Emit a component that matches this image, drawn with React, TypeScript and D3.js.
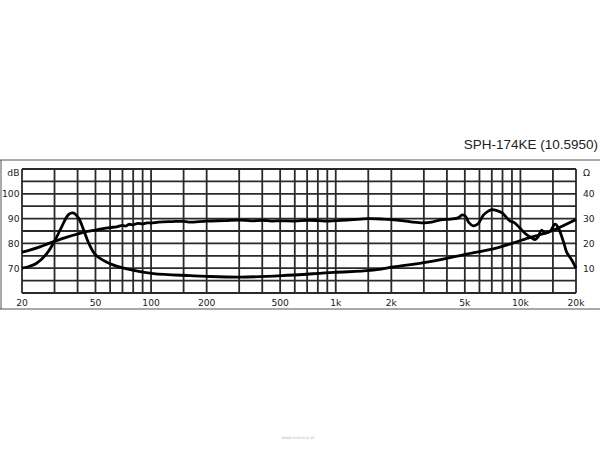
import React from 'react';
import * as d3 from 'd3';

// SPL response (Hz, dB)
const splFreq = [20, 22, 25, 28, 30, 35, 40, 45, 50, 55, 60, 65, 70, 73, 76, 80, 85, 90, 95, 100, 110, 130, 150, 160, 200, 250, 300, 350, 400, 450, 500, 600, 700, 800, 900, 1000, 1200, 1500, 1800, 2200, 2600, 3000, 3300, 3700, 4200, 4600, 4850, 5050, 5250, 5550, 5900, 6300, 6700, 7000, 7400, 8000, 8400, 8800, 9300, 9900, 10800, 11500, 12000, 12500, 13000, 13600, 14500, 15400, 16000, 16700, 17300, 17800, 18900, 20000];
const splDb = [76.5, 77.3, 78.6, 80.0, 80.8, 82.5, 83.8, 84.8, 85.4, 86.0, 86.4, 86.7, 87.3, 87.0, 87.7, 87.5, 88.1, 87.8, 88.3, 88.2, 88.6, 88.8, 88.9, 88.6, 89.0, 89.2, 89.4, 89.1, 89.3, 89.0, 89.1, 89.0, 89.3, 89.2, 89.0, 89.2, 89.5, 90.0, 89.8, 89.3, 88.6, 88.3, 88.6, 89.5, 89.8, 90.3, 91.5, 90.8, 88.5, 87.1, 87.9, 91.4, 93.0, 93.6, 93.3, 92.2, 90.5, 89.0, 88.3, 86.3, 83.5, 82.3, 81.5, 82.8, 85.3, 84.2, 85.0, 87.8, 86.5, 83.0, 79.5, 76.5, 73.5, 70.0];

// impedance (Hz, ohm)
const impFreq = [20, 22, 24, 27.3, 30.3, 32.9, 35.7, 37.8, 40.5, 43.1, 45.9, 50, 60, 77, 103, 163, 200, 304, 511, 973, 1538, 2057, 3240, 4900, 7400, 11100, 14500, 20000];
const impOhm = [10.0, 10.8, 12.0, 16.0, 21.5, 26.9, 31.6, 32.3, 30.2, 25.5, 20.2, 15.4, 11.8, 9.4, 7.8, 7.0, 6.7, 6.4, 7.0, 8.3, 9.1, 10.5, 12.7, 15.4, 18.1, 22.2, 24.8, 29.6];

// grid and labels
const gridFreqs = [20, 30, 40, 50, 60, 70, 80, 90, 100, 150, 200, 300, 400, 500, 600, 700, 800, 900, 1000, 1500, 2000, 3000, 4000, 5000, 6000, 7000, 8000, 9000, 10000, 15000, 20000];
const xTickValues = [20, 50, 100, 200, 500, 1000, 2000, 5000, 10000, 20000];
const xTickLabels = ['20', '50', '100', '200', '500', '1k', '2k', '5k', '10k', '20k'];
const dbGrid = [60, 65, 70, 75, 80, 85, 90, 95, 100, 105, 110];
const dbLabels = ['dB', '100', '90', '80', '70'];
const dbLabelValues = [110, 100, 90, 80, 70];
const ohmLabels = ['Ω', '40', '30', '20', '10'];
const ohmLabelValues = [50, 40, 30, 20, 10];

const W = 600;
const H = 450;
const left = 22;
const right = 576;
const top = 169;
const bottom = 293;

const App: React.FC = () => {
    const x = d3.scaleLog().domain([20, 20000]).range([left, right]);
    const yDb = d3.scaleLinear().domain([60, 110]).range([bottom, top]);
    const yOhm = d3.scaleLinear().domain([0, 50]).range([bottom, top]);

    const line = d3.line<[number, number]>()
        .x(d => x(d[0]))
        .y(d => d[1])
        .curve(d3.curveCatmullRom.alpha(0.5));

    const splPath = line(splFreq.map((f, i) => [f, yDb(splDb[i])]));
    const impPath = line(impFreq.map((f, i) => [f, yOhm(impOhm[i])]));

    const font = 'DejaVu Sans, Verdana, sans-serif';

    return (
        <svg width={W} height={H} style={{ position: 'absolute', left: 0, top: 0, background: '#fff' }}>
            {/* outer frame */}
            <line x1={0} x2={W} y1={160} y2={160} stroke="#555" strokeWidth={1} />
            <line x1={0} x2={W} y1={309} y2={309} stroke="#555" strokeWidth={1} />
            <line x1={1} x2={1} y1={160} y2={309} stroke="#555" strokeWidth={1} />

            <text x={598} y={149} textAnchor="end" fontFamily="Liberation Sans, Arial, sans-serif"
                fontSize={13.5} fill="#222">SPH-174KE (10.5950)</text>

            {/* grid */}
            {gridFreqs.map(f => (
                <line key={'v' + f} x1={x(f)} x2={x(f)} y1={top} y2={bottom} stroke="#2a2a2a" strokeWidth={1.8} />
            ))}
            {dbGrid.map(v => (
                <line key={'h' + v} x1={left} x2={right} y1={yDb(v)} y2={yDb(v)} stroke="#2a2a2a" strokeWidth={1.8} />
            ))}

            {/* curves */}
            <path d={impPath || ''} fill="none" stroke="#000" strokeWidth={2.8} strokeLinejoin="round" />
            <path d={splPath || ''} fill="none" stroke="#000" strokeWidth={2.8} strokeLinejoin="round" />

            {/* axis labels */}
            {xTickValues.map((f, i) => (
                <text key={'x' + f} x={x(f)} y={306} textAnchor="middle" fontFamily={font} fontSize={9.2} fill="#1a1a1a">
                    {xTickLabels[i]}
                </text>
            ))}
            {dbLabelValues.map((v, i) => (
                <text key={'l' + v} x={19.5} y={i === 0 ? 176 : yDb(v) + 3.3} textAnchor="end"
                    fontFamily={font} fontSize={9.2} fill="#1a1a1a">{dbLabels[i]}</text>
            ))}
            {ohmLabelValues.map((v, i) => (
                <text key={'r' + v} x={583} y={i === 0 ? 176 : yOhm(v) + 3.3} textAnchor="start"
                    fontFamily={font} fontSize={9.2} fill="#1a1a1a">{ohmLabels[i]}</text>
            ))}

            <text x={298} y={439} textAnchor="middle" fontFamily={font} fontSize={4} fill="#bbb">www.monacor.pl</text>
        </svg>
    );
};

export default App;
